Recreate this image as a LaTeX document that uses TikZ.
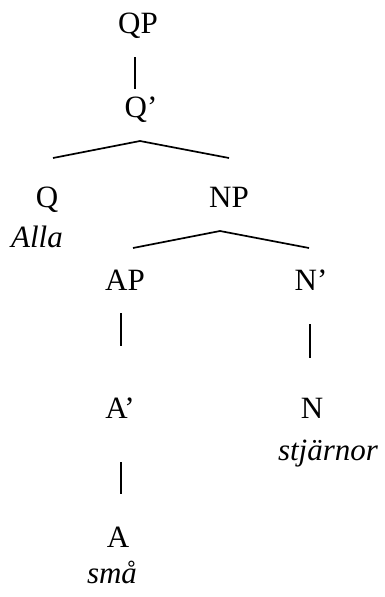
\documentclass[tikz,border=0pt]{standalone}
\usepackage{fontspec}
\setmainfont{Liberation Serif}
\usetikzlibrary{calc}

\begin{document}
\begin{tikzpicture}[x=1pt,y=-1pt,
  lbl/.style={anchor=base,inner sep=0pt,font=\fontsize{31}{37}\selectfont},
  word/.style={lbl,font=\fontsize{31}{37}\selectfont\itshape},
  edge/.style={line width=1.7pt}]

\useasboundingbox (0,0) rectangle (384,597);

\node[lbl] (qp) at (138,33) {QP};
\node[lbl] (qbar) at (141,117) {Q'};
\node[lbl] (q) at (47,207) {Q};
\node[word] (alla) at (37,247) {Alla};
\node[lbl] (np) at (229,207) {NP};
\node[lbl] (ap) at (125,290) {AP};
\node[lbl] (nbar) at (311,290) {N'};
\node[lbl] (abar) at (120,418) {A'};
\node[lbl] (n) at (312,418) {N};
\node[word] (stj) at (328,460) {stjärnor};
\node[lbl] (a) at (118,547) {A};
\node[word] (sma) at (112,583) {små};

% branch points
\coordinate (qp-b) at (135,57);
\coordinate (qbar-t) at (135,89);
\coordinate (qbar-j) at (140,141);
\coordinate (q-t) at (53,158);
\coordinate (np-t) at (229,158);
\coordinate (np-j) at (220,231);
\coordinate (ap-t) at (133,248);
\coordinate (nbar-t) at (309,248);
\coordinate (ap-b) at (121,313);
\coordinate (abar-t) at (121,346);
\coordinate (nbar-b) at (310,324);
\coordinate (n-t) at (310,358);
\coordinate (abar-b) at (121,462);
\coordinate (a-t) at (121,494);

\draw[edge] (qp-b) -- (qbar-t);
\draw[edge] (q-t) -- (qbar-j) -- (np-t);
\draw[edge] (ap-t) -- (np-j) -- (nbar-t);
\draw[edge] (ap-b) -- (abar-t);
\draw[edge] (nbar-b) -- (n-t);
\draw[edge] (abar-b) -- (a-t);

\end{tikzpicture}
\end{document}
